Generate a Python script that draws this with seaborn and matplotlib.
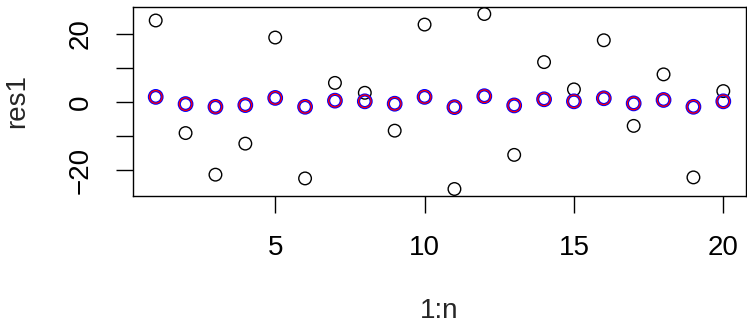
import numpy as np
import pandas as pd
import seaborn as sns
import matplotlib.pyplot as plt

# values
idx = np.arange(1, 21)
res1 = [23.9, -9.1, -21.3, -12.2, 18.9, -22.4, 5.6, 2.7, -8.4, 22.7,
        -25.5, 25.8, -15.5, 11.7, 3.7, 18.1, -7.0, 8.1, -22.1, 3.2]
res2 = [1.5, -0.6, -1.4, -0.9, 1.2, -1.4, 0.4, 0.2, -0.5, 1.5,
        -1.5, 1.7, -1.0, 0.8, 0.2, 1.1, -0.4, 0.6, -1.4, 0.2]
xticks = [5, 10, 15, 20]
yticks = [-20, -10, 0, 10, 20]
ytick_labels = ["\u221220", "", "0", "", "20"]

df = pd.DataFrame({"i": idx, "res1": res1, "res2": res2})

sns.set_style("white")
plt.rcParams["font.family"] = ["Liberation Sans", "DejaVu Sans"]

fig = plt.figure(figsize=(7.47, 3.24), dpi=100)
ax = fig.add_axes([133 / 747, 1 - 196 / 324, 613 / 747, 189 / 324])

sz = 82
sns.scatterplot(data=df, x="i", y="res1", ax=ax, s=sz, marker="o",
                facecolor="none", edgecolor="black", linewidth=1.0)
sns.scatterplot(data=df, x="i", y="res2", ax=ax, s=sz, marker="o",
                facecolor="none", edgecolor="blue", linewidth=2.3)
sns.scatterplot(data=df, x="i", y="res2", ax=ax, s=sz, marker="o",
                facecolor="none", edgecolor="red", linewidth=0.9)

# R-style 4% axis expansion
xlo, xhi = idx.min(), idx.max()
ylo, yhi = min(res1 + res2), max(res1 + res2)
ax.set_xlim(xlo - 0.04 * (xhi - xlo), xhi + 0.04 * (xhi - xlo))
ax.set_ylim(ylo - 0.04 * (yhi - ylo), yhi + 0.04 * (yhi - ylo))

ax.set_xticks(xticks)
ax.set_xticklabels([str(t) for t in xticks])
ax.set_yticks(yticks)
ax.set_yticklabels(ytick_labels)
ax.tick_params(axis="both", direction="out", length=12, width=1.0,
               color="black", labelsize=20, pad=16, labelcolor="black",
               bottom=True, left=True)
plt.setp(ax.get_yticklabels(), rotation=90, va="center")

for sp in ax.spines.values():
    sp.set_color("black")
    sp.set_linewidth(1.0)

ax.set_xlabel("1:n", fontsize=20)
ax.set_ylabel("res1", fontsize=20)
ax.xaxis.set_label_coords(0.5, -0.54)
ax.yaxis.set_label_coords(-0.168, 0.5)

fig.savefig("out.png", dpi=100)
